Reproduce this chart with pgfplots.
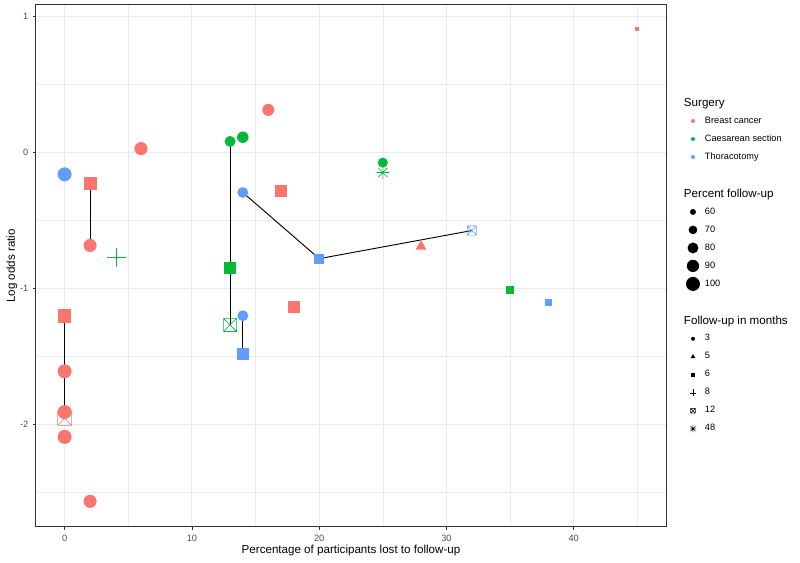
\documentclass[border=0pt]{standalone}
\usepackage{fontspec}
\setmainfont{Liberation Sans}
\usepackage{pgfplots}
\pgfplotsset{compat=1.18}
\definecolor{bc}{HTML}{F8766D}
\definecolor{cs}{HTML}{00BA38}
\definecolor{th}{HTML}{619CFF}
\definecolor{gridc}{HTML}{EBEBEB}
\definecolor{borderc}{HTML}{333333}
\definecolor{labc}{HTML}{4D4D4D}
\newcommand{\ticfont}{\fontsize{6.9}{8}\selectfont}
\newcommand{\titfont}{\fontsize{8.7}{10}\selectfont}
\pgfdeclareplotmark{sqx}{%
  \pgfpathrectangle{\pgfpoint{-\pgfplotmarksize}{-\pgfplotmarksize}}{\pgfpoint{2\pgfplotmarksize}{2\pgfplotmarksize}}%
  \pgfpathmoveto{\pgfpoint{-\pgfplotmarksize}{-\pgfplotmarksize}}\pgfpathlineto{\pgfpoint{\pgfplotmarksize}{\pgfplotmarksize}}%
  \pgfpathmoveto{\pgfpoint{-\pgfplotmarksize}{\pgfplotmarksize}}\pgfpathlineto{\pgfpoint{\pgfplotmarksize}{-\pgfplotmarksize}}%
  \pgfusepathqstroke}
\pgfdeclareplotmark{plm}{%
  \pgfpathmoveto{\pgfpoint{0pt}{\pgfplotmarksize}}\pgfpathlineto{\pgfpoint{0pt}{-\pgfplotmarksize}}%
  \pgfpathmoveto{\pgfpoint{\pgfplotmarksize}{0pt}}\pgfpathlineto{\pgfpoint{-\pgfplotmarksize}{0pt}}%
  \pgfusepathqstroke}
\pgfdeclareplotmark{star8}{%
  \pgfpathmoveto{\pgfpoint{0pt}{\pgfplotmarksize}}\pgfpathlineto{\pgfpoint{0pt}{-\pgfplotmarksize}}%
  \pgfpathmoveto{\pgfpoint{\pgfplotmarksize}{0pt}}\pgfpathlineto{\pgfpoint{-\pgfplotmarksize}{0pt}}%
  \pgfpathmoveto{\pgfpoint{.7071\pgfplotmarksize}{.7071\pgfplotmarksize}}\pgfpathlineto{\pgfpoint{-.7071\pgfplotmarksize}{-.7071\pgfplotmarksize}}%
  \pgfpathmoveto{\pgfpoint{-.7071\pgfplotmarksize}{.7071\pgfplotmarksize}}\pgfpathlineto{\pgfpoint{.7071\pgfplotmarksize}{-.7071\pgfplotmarksize}}%
  \pgfusepathqstroke}
\pgfplotsset{
  pts/.style n args={3}{color=#2, only marks, scatter, mark=#1,
    scatter/use mapped color={draw=#2, fill=#2, #3},
    visualization depends on={\thisrow{s}\as\ms},
    scatter/@pre marker code/.append style={/tikz/mark size=\ms}, forget plot},
  open/.style n args={3}{color=#2, only marks, mark=#1, mark size=#3,
    mark options={draw=#2, fill=none, line width=0.45pt}, forget plot},
  seg/.style={black, line width=0.7pt, no marks, forget plot},
  ttl/.style={legend image code/.code={\draw[opacity=0, line width=0pt] (0pt,-6.4pt) -- (0pt,6.75pt);}},
  blk/.style={legend image code/.code={\draw[opacity=0, line width=0pt] (0pt,-7.25pt) -- (0pt,7.25pt);}},
}
\begin{document}
\begin{tikzpicture}
\useasboundingbox (-27pt,-27pt) rectangle (573pt,395.25pt);
\begin{axis}[
  at={(0pt,0pt)}, anchor=south west,
  scale only axis, width=472.5pt, height=391.5pt,
  xmin=-2.25, xmax=47.25, ymin=-2.755, ymax=1.087,
  xtick={0,10,20,30,40}, ytick={-2,-1,0,1},
  minor xtick={5,15,25,35,45}, minor ytick={-2.5,-1.5,-0.5,0.5},
  xtick pos=bottom, ytick pos=left,
  grid=both,
  major grid style={draw=gridc, line width=0.8pt},
  minor grid style={draw=gridc, line width=0.4pt},
  tick align=outside, major tick length=2.2pt, minor tick length=0pt,
  tick style={draw=borderc, line width=0.6pt},
  axis line style={draw=borderc, line width=0.75pt},
  tick label style={font=\ticfont, text=labc},
  /pgf/number format/assume math mode=true,
  xlabel={Percentage of participants lost to follow-up},
  ylabel={Log odds ratio},
  xlabel style={at={(axis description cs:0.5,-0.0445)}, anchor=center, font=\titfont},
  ylabel style={at={(axis description cs:-0.0381,0.5)}, anchor=center, font=\titfont},
  legend image code/.code={\draw[opacity=0, line width=0pt] (-7pt,-6.75pt) rectangle (7pt,6.75pt); \draw[#1] plot coordinates {(0pt,0pt)};},
  legend cell align=left,
  legend style={at={(axis description cs:1.0280,0.8285)}, anchor=north west,
    draw=none, fill=none, inner sep=0pt, outer sep=0pt, row sep=0pt, column sep=2pt,
    nodes={inner sep=0pt, font=\ticfont}},
]
% ---- legend entries ----
\addlegendimage{ttl}\addlegendentry{\hspace*{-15.75pt}\titfont Surgery}
\addlegendimage{mark=*, mark size=1.5pt, draw opacity=0, fill=bc}\addlegendentry{Breast cancer}
\addlegendimage{mark=*, mark size=1.5pt, draw opacity=0, fill=cs}\addlegendentry{Caesarean section}
\addlegendimage{mark=*, mark size=1.5pt, draw opacity=0, fill=th}\addlegendentry{Thoracotomy}
\addlegendimage{blk}\addlegendentry{}
\addlegendimage{ttl}\addlegendentry{\hspace*{-15.75pt}\titfont Percent follow-up}
\addlegendimage{mark=*, mark size=2.25pt, draw opacity=0, fill=black}\addlegendentry{60}
\addlegendimage{mark=*, mark size=3.25pt, draw opacity=0, fill=black}\addlegendentry{70}
\addlegendimage{mark=*, mark size=4.1pt, draw opacity=0, fill=black}\addlegendentry{80}
\addlegendimage{mark=*, mark size=4.6pt, draw opacity=0, fill=black}\addlegendentry{90}
\addlegendimage{mark=*, mark size=5.25pt, draw opacity=0, fill=black}\addlegendentry{100}
\addlegendimage{blk}\addlegendentry{}
\addlegendimage{ttl}\addlegendentry{\hspace*{-15.75pt}\titfont Follow-up in months}
\addlegendimage{mark=*, mark size=1.5pt, draw opacity=0, fill=black}\addlegendentry{3}
\addlegendimage{mark=triangle*, mark size=2.1pt, draw opacity=0, fill=black}\addlegendentry{5}
\addlegendimage{mark=square*, mark size=1.4pt, draw opacity=0, fill=black}\addlegendentry{6}
\addlegendimage{mark=plm, mark size=2.6pt, draw=black, line width=0.4pt}\addlegendentry{8}
\addlegendimage{mark=sqx, mark size=1.8pt, draw=black, line width=0.35pt}\addlegendentry{12}
\addlegendimage{mark=star8, mark size=2.6pt, draw=black, line width=0.35pt}\addlegendentry{48}
% ---- open marks (12 months, 8, 48) ----
\addplot[open={sqx}{bc}{5.25pt}] coordinates {(0,-1.956)};
\addplot[open={sqx}{cs}{4.9pt}] coordinates {(13,-1.268)};
\addplot[open={sqx}{th}{3.4pt}] coordinates {(32,-0.573)};
\addplot[open={plm}{cs}{7.1pt}, mark options={line width=0.6pt}] coordinates {(4.05,-0.771)};
\addplot[open={star8}{cs}{4.9pt}] coordinates {(25,-0.146)};
% ---- circles (3 months) ----
\addplot[pts={*}{bc}{draw opacity=0}] table {
x y s
0 -1.609 5.25
0 -1.909 5.25
0 -2.092 5.25
2 -0.683 4.9
2 -2.566 4.9
6 0.03 4.9
16 0.315 4.5
};
\addplot[pts={*}{cs}{draw opacity=0}] table {
x y s
13 0.083 4.1
14 0.114 4.3
25 -0.073 3.75
};
\addplot[pts={*}{th}{draw opacity=0}] table {
x y s
0 -0.159 5.25
14 -0.293 4.1
14 -1.2 4.1
};
% ---- squares (6 months) ----
\addplot[pts={square*}{bc}{draw opacity=0}] table {
x y s
0 -1.203 5.0
2 -0.227 4.9
17 -0.283 4.5
18 -1.134 4.5
45 0.909 1.5
};
\addplot[pts={square*}{cs}{draw opacity=0}] table {
x y s
13 -0.849 4.5
35 -1.007 3.0
};
\addplot[pts={square*}{th}{draw opacity=0}] table {
x y s
14 -1.483 4.5
20 -0.78 3.75
38 -1.105 2.6
};
% ---- triangle (5 months) ----
\addplot[only marks, mark=triangle*, mark size=4.7pt, mark options={draw opacity=0, fill=bc}, forget plot] coordinates {(28,-0.69)};
% ---- connecting lines ----
\addplot[seg] coordinates {(0,-1.203) (0,-1.956)};
\addplot[seg] coordinates {(2,-0.227) (2,-0.683)};
\addplot[seg] coordinates {(13,0.083) (13,-1.268)};
\addplot[seg] coordinates {(14,-1.2) (14,-1.483)};
\addplot[seg] coordinates {(14,-0.293) (20,-0.78) (32,-0.573)};
\end{axis}
\end{tikzpicture}
\end{document}
